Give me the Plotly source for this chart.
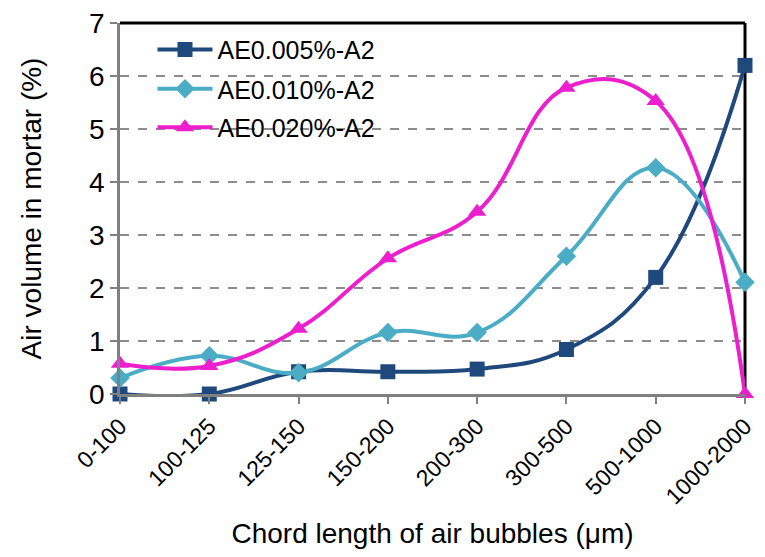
import plotly.graph_objects as go

# Chord-length classes of air bubbles (um)
categories = ["0-100", "100-125", "125-150", "150-200", "200-300",
              "300-500", "500-1000", "1000-2000"]

# Air volume in mortar (%) for each air-entraining agent dosage
ae_0005 = [0.0, 0.0, 0.42, 0.42, 0.47, 0.84, 2.2, 6.2]
ae_0010 = [0.3, 0.72, 0.4, 1.16, 1.16, 2.6, 4.27, 2.11]
ae_0020 = [0.57, 0.53, 1.23, 2.56, 3.44, 5.78, 5.53, 0.0]

series_names = ["AE0.005%-A2", "AE0.010%-A2", "AE0.020%-A2"]
y_ticks = [0, 1, 2, 3, 4, 5, 6, 7]

FONT = "Liberation Sans, Arial, sans-serif"

styles = [
    dict(color="#1F497D", symbol="square", size=15),
    dict(color="#4BACC6", symbol="diamond", size=15),
    dict(color="#EC1ECE", symbol="triangle-up", size=16),
]

# One legend box per series so the entries sit on an even, wide pitch
legend_ids = ["legend", "legend2", "legend3"]
legend_y = [0.928, 0.822, 0.718]

fig = go.Figure()
for name, values, st, lid in zip(series_names, [ae_0005, ae_0010, ae_0020],
                                 styles, legend_ids):
    fig.add_trace(go.Scatter(
        x=categories, y=values, name=name, legend=lid,
        mode="lines+markers",
        line=dict(color=st["color"], width=4, shape="spline", smoothing=1.2),
        marker=dict(color=st["color"], symbol=st["symbol"], size=st["size"]),
        cliponaxis=False,
    ))

legend_style = dict(x=0.052, xanchor="left", yanchor="middle",
                    bgcolor="rgba(0,0,0,0)", font=dict(size=25, family=FONT),
                    itemwidth=55)

fig.update_layout(
    width=765, height=557,
    margin=dict(l=120, r=8, t=19, b=163),
    paper_bgcolor="white", plot_bgcolor="white",
    font=dict(family=FONT, color="black", size=24),
    showlegend=True,
    legend=dict(y=legend_y[0], **legend_style),
    legend2=dict(y=legend_y[1], **legend_style),
    legend3=dict(y=legend_y[2], **legend_style),
    xaxis=dict(
        type="category", range=[0, 7],
        tickangle=-45, tickfont=dict(size=23),
        ticks="outside", ticklen=7, tickcolor="#808080", tickwidth=2,
        showline=True, linecolor="#808080", linewidth=2.5,
        showgrid=False, zeroline=False,
        title=dict(text="Chord length of air bubbles (\u03bcm)",
                   font=dict(size=28), standoff=16),
    ),
    yaxis=dict(
        range=[0, 7], tickvals=y_ticks, tickfont=dict(size=28),
        ticks="outside", ticklen=7, tickcolor="#808080", tickwidth=2,
        showline=True, linecolor="#808080", linewidth=2.5,
        showgrid=True, gridcolor="#8C8C8C", gridwidth=1.5, griddash="dash",
        zeroline=False,
        title=dict(text="Air volume in mortar (%)", font=dict(size=28), standoff=40),
    ),
)

# Black frame along the top and right of the plotting area
fig.add_shape(type="line", xref="paper", yref="paper", x0=0, x1=1, y0=1, y1=1,
              line=dict(color="black", width=3), layer="above")
fig.add_shape(type="line", xref="paper", yref="paper", x0=1, x1=1, y0=0, y1=1,
              line=dict(color="black", width=3), layer="below")

fig.write_html("out.html")
